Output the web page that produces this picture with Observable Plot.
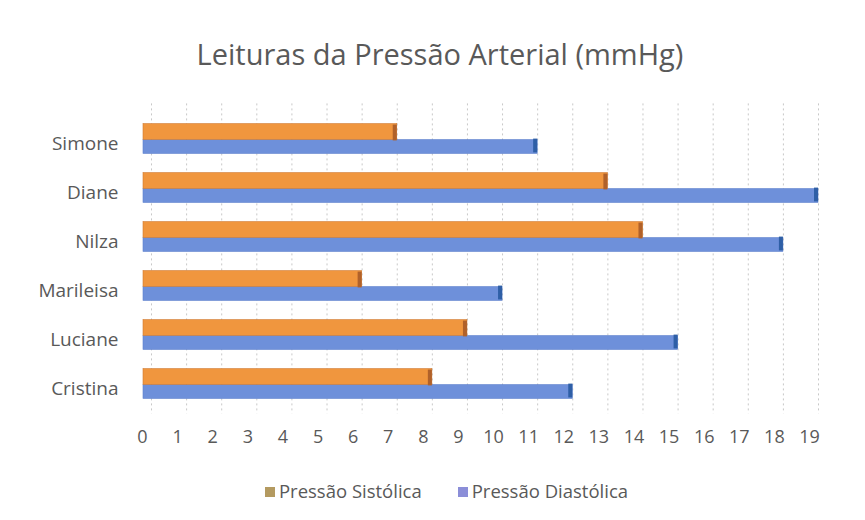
<!DOCTYPE html>
<html>
<head>
<meta charset="utf-8">
<script src="https://cdn.jsdelivr.net/npm/d3@7"></script>
<script src="https://cdn.jsdelivr.net/npm/@observablehq/plot@0.6"></script>
<style>
  html, body { margin: 0; padding: 0; background: #ffffff; }
  body { width: 865px; height: 520px; overflow: hidden; font-family: "Open Sans", sans-serif; color: #595959; }
  #title { height: 90px; box-sizing: border-box; padding-top: 36px; padding-left: 15px; text-align: center; font-size: 29px; line-height: 36px; color: #595959; }
  #chart { height: 370px; }
  #legend { margin-top: 20px; padding-left: 28px; text-align: center; font-size: 18.5px; line-height: 22px; color: #595959; white-space: nowrap; }
  .item { display: inline-block; margin: 0 18px; }
  .sw { display: inline-block; width: 10px; height: 10px; margin-right: 4px; vertical-align: 1px; }
</style>
</head>
<body>
<div id="title">Leituras da Pressão Arterial (mmHg)</div>
<div id="chart"></div>
<div id="legend"></div>
<script>
const categories = ["Simone", "Diane", "Nilza", "Marileisa", "Luciane", "Cristina"];
const sistolica = [7, 13, 14, 6, 9, 8];
const diastolica = [11, 19, 18, 10, 15, 12];
const xTicks = [0, 1, 2, 3, 4, 5, 6, 7, 8, 9, 10, 11, 12, 13, 14, 15, 16, 17, 18, 19];
const seriesNames = ["Pressão Sistólica", "Pressão Diastólica"];

const rows = categories.map((name, i) => ({name, sis: sistolica[i], dia: diastolica[i]}));

const orange = "#F0963E";
const orangeSide = "#B0612A";
const blue = "#6E90DA";
const blueSide = "#2F5FA6";

const band = {insetTopS: 4.6, insetBottomS: 28.6, insetTopD: 20.6, insetBottomD: 14.6};

const chart = Plot.plot({
  width: 865,
  height: 370,
  marginLeft: 151,
  marginRight: 47,
  marginTop: 28.4,
  marginBottom: 46.4,
  style: {fontFamily: "Open Sans, sans-serif", fontSize: "16px", color: "#595959", background: "transparent", overflow: "visible"},
  x: {domain: [0, 19], label: null},
  y: {domain: categories, type: "band", padding: 0, label: null},
  marks: [
    Plot.gridX(xTicks, {stroke: "#c8c8c8", strokeOpacity: 1, strokeDasharray: "2,3", insetTop: -15}),
    Plot.barX(rows, {y: "name", x: "dia", fill: blue, stroke: "#5a7fcc", strokeWidth: 0.6, insetLeft: -8, insetTop: band.insetTopD, insetBottom: band.insetBottomD}),
    Plot.barX(rows, {y: "name", x1: "dia", x2: "dia", fill: blueSide, insetLeft: -4, insetTop: band.insetTopD - 1, insetBottom: band.insetBottomD + 1}),
    Plot.barX(rows, {y: "name", x: "sis", fill: orange, stroke: "#d07a30", strokeWidth: 0.6, insetLeft: -8, insetTop: band.insetTopS, insetBottom: band.insetBottomS}),
    Plot.barX(rows, {y: "name", x1: "sis", x2: "sis", fill: orangeSide, insetLeft: -4, insetTop: band.insetTopS + 1, insetBottom: band.insetBottomS - 1}),
    Plot.axisX(xTicks, {tickSize: 0, tickPadding: 16, dx: -9, fontSize: 18, fill: "#595959", label: null}),
    Plot.axisY(categories, {tickSize: 0, tickPadding: 33, fontSize: 19, fill: "#595959", label: null})
  ]
});
document.getElementById("chart").appendChild(chart);

const legendColors = ["#B49A60", "#8B8ED8"];
const legend = document.getElementById("legend");
seriesNames.forEach((s, i) => {
  const item = document.createElement("span");
  item.className = "item";
  const sw = document.createElement("span");
  sw.className = "sw";
  sw.style.background = legendColors[i];
  item.appendChild(sw);
  item.appendChild(document.createTextNode(s));
  legend.appendChild(item);
});
</script>
</body>
</html>
